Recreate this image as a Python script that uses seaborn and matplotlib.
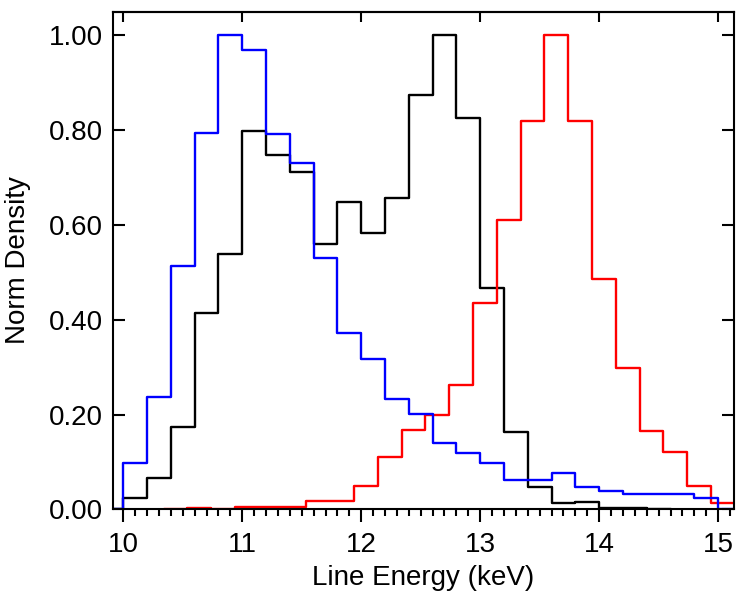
import numpy as np
import pandas as pd
import matplotlib
matplotlib.use("Agg")
import matplotlib.pyplot as plt
from matplotlib.ticker import MultipleLocator, FormatStrFormatter
import seaborn as sns

# bin layout (keV), 0.2 keV wide bins
bin_width = 0.2
blue_start, black_start, red_start = 10.0, 10.0, 10.54

# normalised densities, one value per bin
blue_vals = [0.098, 0.237, 0.514, 0.793, 1.000, 0.968, 0.791, 0.730, 0.529,
             0.371, 0.318, 0.232, 0.202, 0.141, 0.119, 0.098, 0.062, 0.063,
             0.077, 0.048, 0.039, 0.032, 0.032, 0.032, 0.025]
black_vals = [0.025, 0.067, 0.174, 0.415, 0.538, 0.798, 0.746, 0.711, 0.559,
              0.647, 0.583, 0.656, 0.874, 1.000, 0.826, 0.466, 0.164, 0.048,
              0.014, 0.015, 0.002, 0.004]
red_vals = [0.003, 0.001, 0.006, 0.006, 0.006, 0.018, 0.018, 0.049, 0.111,
            0.167, 0.200, 0.262, 0.434, 0.610, 0.819, 1.000, 0.819, 0.485,
            0.297, 0.165, 0.121, 0.049, 0.013]


def hist_frame(start, vals):
    # pad with an empty bin on each side so the outline drops to zero
    n = len(vals)
    edges = np.round(start + bin_width * np.arange(-1, n + 2), 4)
    centers = (edges[:-1] + edges[1:]) / 2
    df = pd.DataFrame({"energy": centers, "dens": [0.0] + list(vals) + [0.0]})
    return df, edges.tolist()


sns.set_theme(style="ticks")
plt.rcParams["font.family"] = ["Liberation Sans", "DejaVu Sans"]
plt.rcParams.update({"text.color": "black", "axes.labelcolor": "black",
                     "xtick.color": "black", "ytick.color": "black",
                     "axes.edgecolor": "black"})

FS = 20

fig, ax = plt.subplots(figsize=(7.5, 6), dpi=100)
fig.subplots_adjust(left=0.150, right=0.979, top=0.9805, bottom=0.151)

for start, vals, col in [(black_start, black_vals, "black"),
                         (red_start, red_vals, "#ff0000"),
                         (blue_start, blue_vals, "#0000ff")]:
    df, edges = hist_frame(start, vals)
    sns.histplot(data=df, x="energy", weights="dens", bins=edges, ax=ax,
                 element="step", fill=False, color=col, linewidth=1.7)

ax.set_xlim(9.91, 15.135)
ax.set_ylim(0, 1.049)
ax.set_xlabel("Line Energy (keV)", fontsize=FS, labelpad=5)
ax.set_ylabel("Norm Density", fontsize=FS, labelpad=13)

ax.xaxis.set_major_locator(MultipleLocator(1))
ax.xaxis.set_minor_locator(MultipleLocator(0.1))
ax.yaxis.set_major_locator(MultipleLocator(0.2))
ax.yaxis.set_major_formatter(FormatStrFormatter("%.2f"))

ax.tick_params(axis="x", which="major", direction="out", length=9, width=1.5,
               labelsize=FS, pad=7, top=False)
ax.tick_params(axis="x", which="minor", direction="out", length=5, width=1.5,
               top=False)
ax.tick_params(axis="y", which="major", direction="in", length=8.5, width=1.5,
               labelsize=FS, pad=7, right=True)

# top axis: major ticks only, pointing inward
top = ax.secondary_xaxis("top")
top.xaxis.set_major_locator(MultipleLocator(1))
top.tick_params(axis="x", direction="in", length=7, width=1.5, labeltop=False)
top.spines["top"].set_linewidth(1.5)

for sp in ax.spines.values():
    sp.set_visible(True)
    sp.set_linewidth(1.5)
    sp.set_color("black")

fig.savefig("out.png", dpi=100)
